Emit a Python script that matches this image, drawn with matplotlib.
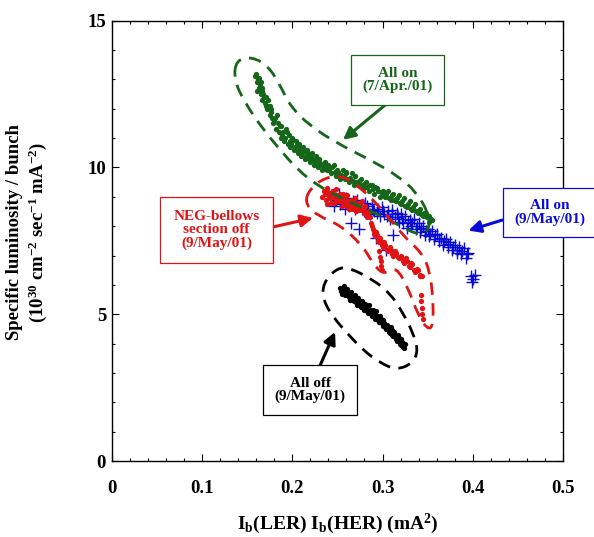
import matplotlib
matplotlib.use('Agg')
import matplotlib.pyplot as plt
from matplotlib.ticker import MultipleLocator
from matplotlib.path import Path
from matplotlib.patches import PathPatch

plt.rcParams['font.family'] = ['Liberation Serif', 'DejaVu Serif']
plt.rcParams['font.weight'] = 'bold'
plt.rcParams['mathtext.fontset'] = 'custom'
plt.rcParams['mathtext.rm'] = 'Liberation Serif:bold'
plt.rcParams['mathtext.it'] = 'Liberation Serif:bold'
plt.rcParams['mathtext.bf'] = 'Liberation Serif:bold'
plt.rcParams['mathtext.default'] = 'rm'

# ---- data ----
# All on (7/Apr./01)  - green dots
green_x = [0.160, 0.161, 0.162, 0.163, 0.164, 0.165, 0.166, 0.167, 0.168, 0.170,
           0.171, 0.172, 0.174, 0.175, 0.176, 0.178, 0.179, 0.181, 0.182, 0.184,
           0.185, 0.187, 0.188, 0.190, 0.191, 0.193, 0.195, 0.196, 0.198, 0.200,
           0.202, 0.204, 0.206, 0.208, 0.210, 0.212, 0.214, 0.216, 0.218, 0.220,
           0.222, 0.224, 0.226, 0.228, 0.230, 0.233, 0.236, 0.238, 0.240, 0.243,
           0.246, 0.248, 0.250, 0.253, 0.256, 0.258, 0.260, 0.263, 0.266, 0.268,
           0.270, 0.273, 0.276, 0.279, 0.282, 0.285, 0.288, 0.291, 0.294, 0.297,
           0.300, 0.303, 0.306, 0.309, 0.312, 0.315, 0.318, 0.321, 0.324, 0.327,
           0.330, 0.333, 0.336, 0.339, 0.342, 0.345, 0.348, 0.351, 0.354,
           0.159, 0.161, 0.163, 0.165, 0.167, 0.169, 0.171, 0.173, 0.175, 0.177,
           0.180, 0.183, 0.186, 0.189, 0.192, 0.194, 0.197, 0.199, 0.201, 0.203,
           0.205, 0.207, 0.209, 0.211, 0.213, 0.215, 0.217, 0.219, 0.221, 0.223,
           0.225, 0.227, 0.229, 0.231, 0.234, 0.237, 0.239, 0.241, 0.244, 0.247,
           0.249, 0.251, 0.254, 0.257, 0.259, 0.261, 0.264, 0.267, 0.269, 0.271,
           0.274, 0.277, 0.280, 0.283, 0.286, 0.289, 0.292, 0.295, 0.298, 0.301,
           0.304, 0.307, 0.310, 0.313, 0.316, 0.319, 0.322, 0.325, 0.328, 0.331,
           0.334, 0.337, 0.340, 0.343, 0.346, 0.349, 0.352, 0.355]
green_y = [13.2, 12.9, 13.0, 12.7, 12.8, 12.5, 12.7, 12.3, 12.5, 12.2,
           12.4, 12.0, 12.1, 11.8, 12.0, 11.7, 11.5, 11.7, 11.3, 11.5,
           11.2, 11.4, 11.0, 11.2, 10.9, 11.3, 10.8, 11.1, 10.7, 11.0,
           10.6, 10.9, 10.5, 10.8, 10.4, 10.7, 10.3, 10.6, 10.4, 10.2,
           10.5, 10.1, 10.4, 10.0, 10.3, 9.9, 10.2, 9.9, 10.1, 9.8,
           10.1, 9.7, 9.9, 9.6, 9.9, 9.6, 9.8, 9.5, 9.8, 9.4,
           9.7, 9.4, 9.6, 9.3, 9.5, 9.2, 9.4, 9.1, 9.3, 9.0,
           9.2, 9.0, 9.2, 8.9, 9.1, 8.85, 9.05, 8.75, 8.95, 8.65,
           8.85, 8.55, 8.75, 8.45, 8.6, 8.35, 8.45, 8.15, 8.25,
           13.1, 12.6, 13.05, 12.9, 12.6, 12.4, 12.1, 12.3, 12.1, 11.9,
           11.6, 11.8, 11.4, 11.1, 11.0, 11.2, 10.9, 10.8, 10.95, 10.7,
           10.75, 10.6, 10.65, 10.5, 10.55, 10.4, 10.5, 10.3, 10.35, 10.25,
           10.2, 10.3, 10.1, 10.15, 10.05, 9.95, 10.05, 9.9, 10.0, 9.85,
           9.75, 9.85, 9.75, 9.7, 9.85, 9.6, 9.65, 9.55, 9.7, 9.5,
           9.55, 9.4, 9.45, 9.35, 9.4, 9.25, 9.35, 9.2, 9.15, 9.05,
           9.1, 8.95, 9.05, 8.9, 8.95, 8.8, 8.85, 8.7, 8.75, 8.6,
           8.65, 8.5, 8.55, 8.4, 8.45, 8.3, 8.35, 8.2]

# All on (9/May/01) - blue crosses
blue_x = [0.243, 0.246, 0.249, 0.252, 0.255, 0.258, 0.260, 0.263, 0.265, 0.267,
          0.270, 0.272, 0.274, 0.276, 0.279, 0.281, 0.284, 0.286, 0.288, 0.291,
          0.293, 0.295, 0.297, 0.299, 0.302, 0.304, 0.306, 0.308, 0.310, 0.312,
          0.314, 0.316, 0.318, 0.320, 0.323, 0.325, 0.327, 0.330, 0.332, 0.335,
          0.337, 0.340, 0.342, 0.345, 0.347, 0.350, 0.352, 0.355, 0.357, 0.360,
          0.362, 0.365, 0.367, 0.370, 0.372, 0.375, 0.377, 0.380, 0.382, 0.385,
          0.387, 0.390, 0.392, 0.395, 0.398, 0.400, 0.402, 0.399,
          0.248, 0.253, 0.257, 0.262, 0.268, 0.271, 0.277, 0.283, 0.289, 0.294,
          0.300, 0.305, 0.311, 0.317, 0.322, 0.328, 0.333, 0.338, 0.343, 0.348,
          0.353, 0.358, 0.363, 0.368, 0.373, 0.378, 0.383, 0.388, 0.393]
blue_y = [9.05, 8.7, 8.9, 9.1, 8.8, 8.6, 8.95, 8.7, 8.1, 8.85,
          8.6, 8.9, 7.9, 8.7, 8.5, 8.8, 8.6, 8.4, 8.75, 8.5,
          7.6, 8.6, 8.35, 8.65, 8.4, 7.2, 8.5, 8.25, 8.55, 7.7,
          8.3, 8.45, 8.15, 8.4, 8.1, 8.35, 7.95, 8.2, 8.0, 8.25,
          7.9, 8.1, 7.8, 8.0, 7.7, 7.9, 7.65, 7.85, 7.55, 7.75,
          7.5, 7.6, 7.35, 7.55, 7.3, 7.45, 7.2, 7.35, 7.1, 7.3,
          7.05, 7.25, 6.9, 7.1, 6.3, 6.2, 6.35, 6.1,
          8.95, 8.75, 8.9, 8.8, 8.7, 8.8, 8.6, 8.7, 8.55, 8.45,
          8.5, 8.35, 8.4, 8.3, 8.25, 8.15, 8.1, 8.0, 7.95, 7.85,
          7.75, 7.7, 7.55, 7.5, 7.4, 7.3, 7.2, 7.15, 7.05]

# NEG-bellows section off (9/May/01) - red dots
red_x = [0.235, 0.237, 0.239, 0.241, 0.243, 0.245, 0.247, 0.249, 0.251, 0.253,
         0.255, 0.257, 0.259, 0.261, 0.263, 0.265, 0.267, 0.269, 0.271, 0.273,
         0.275, 0.277, 0.279, 0.281, 0.283, 0.285, 0.287, 0.289, 0.291, 0.293,
         0.295, 0.297, 0.299, 0.302, 0.305, 0.308, 0.311, 0.314, 0.317, 0.320,
         0.323, 0.326, 0.329, 0.332, 0.335, 0.338, 0.341, 0.344,
         0.296, 0.297, 0.298, 0.298, 0.299, 0.343, 0.343, 0.344, 0.344, 0.345,
         0.233, 0.236, 0.238, 0.240, 0.242, 0.244, 0.246, 0.248, 0.250, 0.252,
         0.254, 0.256, 0.258, 0.260, 0.262, 0.264, 0.266, 0.268, 0.270, 0.272,
         0.274, 0.276, 0.278, 0.280, 0.282, 0.284, 0.286, 0.288, 0.290, 0.292,
         0.294, 0.296, 0.298, 0.300, 0.303, 0.306, 0.309, 0.312, 0.315, 0.318,
         0.321, 0.324, 0.327, 0.330, 0.333, 0.336, 0.339, 0.342]
red_y = [9.2, 8.9, 9.3, 9.0, 8.8, 9.2, 8.95, 9.25, 8.85, 9.1,
         8.7, 9.0, 8.8, 9.05, 8.6, 8.9, 8.7, 8.95, 8.5, 8.8,
         8.6, 8.85, 8.45, 8.7, 8.3, 8.5, 8.1, 7.9, 7.75, 7.8,
         7.5, 7.6, 7.35, 7.45, 7.2, 7.3, 7.05, 7.15, 6.95, 7.0,
         6.8, 6.9, 6.65, 6.75, 6.5, 6.55, 6.35, 6.3,
         7.15, 6.95, 6.8, 6.65, 6.5, 5.65, 5.45, 5.2, 5.0, 4.85,
         9.0, 9.1, 8.75, 9.15, 8.95, 9.1, 8.8, 9.05, 9.0, 8.95,
         8.85, 9.1, 8.9, 8.7, 8.85, 8.75, 8.6, 8.8, 8.7, 8.65,
         8.55, 8.7, 8.6, 8.55, 8.45, 8.35, 8.3, 8.0, 7.85, 7.65,
         7.7, 7.45, 7.5, 7.3, 7.35, 7.15, 7.2, 7.0, 7.1, 6.9,
         6.95, 6.75, 6.8, 6.6, 6.7, 6.45, 6.5, 6.3]

# All off (9/May/01) - black dots
black_x = [0.253, 0.255, 0.257, 0.259, 0.261, 0.263, 0.265, 0.267, 0.269, 0.271,
           0.273, 0.275, 0.277, 0.279, 0.281, 0.283, 0.285, 0.287, 0.289, 0.291,
           0.293, 0.295, 0.297, 0.299, 0.301, 0.303, 0.305, 0.307, 0.309, 0.311,
           0.313, 0.315, 0.317, 0.319, 0.321, 0.323, 0.325,
           0.254, 0.256, 0.258, 0.260, 0.262, 0.264, 0.266, 0.268, 0.270, 0.272,
           0.274, 0.276, 0.278, 0.280, 0.282, 0.284, 0.286, 0.288, 0.290, 0.292,
           0.294, 0.296, 0.298, 0.300, 0.302, 0.304, 0.306, 0.308, 0.310, 0.312,
           0.314, 0.316, 0.318, 0.320, 0.322, 0.324]
black_y = [5.9, 5.7, 5.95, 5.75, 5.85, 5.6, 5.75, 5.5, 5.65, 5.4,
           5.55, 5.3, 5.45, 5.2, 5.35, 5.1, 5.3, 5.0, 5.15, 4.95,
           5.1, 4.8, 4.95, 4.7, 4.8, 4.55, 4.65, 4.4, 4.55, 4.3,
           4.4, 4.15, 4.3, 4.0, 4.15, 3.9, 4.0,
           5.8, 5.85, 5.65, 5.8, 5.7, 5.5, 5.6, 5.45, 5.55, 5.3,
           5.4, 5.25, 5.35, 5.15, 5.25, 5.05, 5.15, 4.95, 5.05, 4.85,
           4.95, 4.75, 4.85, 4.6, 4.7, 4.5, 4.55, 4.35, 4.45, 4.25,
           4.3, 4.1, 4.2, 3.95, 4.05, 3.85]

# dashed outlines drawn round each group (data units)
green_outline = [(0.1377, 13.66), (0.1554, 13.77), (0.1732, 13.46), (0.1865, 12.81),
                 (0.1975, 12.10), (0.2197, 11.41), (0.2529, 10.77), (0.2862, 10.26),
                 (0.3172, 9.71), (0.3371, 9.17), (0.3504, 8.48), (0.3526, 7.94),
                 (0.3416, 7.67), (0.3194, 8.01), (0.2917, 8.45), (0.2585, 8.89),
                 (0.2286, 9.37), (0.2064, 9.91), (0.1865, 10.60), (0.1665, 11.35),
                 (0.1477, 12.20), (0.1355, 12.98)]
red_outline = [(0.2164, 9.13), (0.2308, 9.57), (0.2496, 9.74), (0.2662, 9.54),
               (0.2939, 8.79), (0.3227, 7.67), (0.3438, 7.09), (0.3526, 6.44),
               (0.3560, 5.49), (0.3560, 4.57), (0.3493, 4.50), (0.3394, 4.97),
               (0.3283, 5.89), (0.3172, 6.51), (0.3105, 6.51), (0.2995, 6.37),
               (0.2884, 6.78), (0.2773, 7.36), (0.2529, 8.04), (0.2286, 8.35),
               (0.2153, 8.72)]
black_outline = [(0.2341, 6.06), (0.2496, 6.58), (0.2640, 6.58), (0.2895, 6.17),
                 (0.3083, 5.72), (0.3227, 5.04), (0.3338, 4.36), (0.3394, 3.78),
                 (0.3338, 3.34), (0.3161, 3.10), (0.2973, 3.34), (0.2784, 3.78),
                 (0.2606, 4.36), (0.2451, 4.91), (0.2341, 5.49)]

xticks = [0, 0.1, 0.2, 0.3, 0.4, 0.5]
xticklabels = ['0', '0.1', '0.2', '0.3', '0.4', '0.5']
yticks = [0, 5, 10, 15]

GREEN = '#16661a'
BLUE = '#0b0bd8'
RED = '#e01414'
BLACK = '#000000'


def smooth_outline(ax, pts, color):
    # closed quadratic spline through the midpoints of the outline vertices
    n = len(pts)
    mid = lambda a, b: ((a[0] + b[0]) / 2, (a[1] + b[1]) / 2)
    verts = [mid(pts[-1], pts[0])]
    codes = [Path.MOVETO]
    for i in range(n):
        verts += [pts[i], mid(pts[i], pts[(i + 1) % n])]
        codes += [Path.CURVE3, Path.CURVE3]
    patch = PathPatch(Path(verts, codes), fill=False, edgecolor=color,
                      lw=2.0, linestyle=(0, (4.5, 3)), zorder=4)
    ax.add_patch(patch)


fig = plt.figure(figsize=(5.94, 5.37), dpi=100)
ax = fig.add_axes([0.188, 0.1415, 0.760, 0.820])

ax.plot(blue_x, blue_y, '+', color=BLUE, ms=9, mew=1.0, zorder=2)
ax.plot(green_x, green_y, 'o', color=GREEN, ms=3.8, mec='none', zorder=3)
ax.plot(red_x, red_y, 'o', color=RED, ms=3.8, mec='none', zorder=3)
ax.plot(black_x, black_y, 'o', color=BLACK, ms=3.8, mec='none', zorder=3)

smooth_outline(ax, green_outline, GREEN)
smooth_outline(ax, red_outline, RED)
smooth_outline(ax, black_outline, BLACK)

def label(ax, text, head, center, color, relpos, pad=0.75):
    ax.annotate(text, xy=head, xytext=center, ha='center', va='center',
                fontsize=11, fontweight='bold', color=color, linespacing=1.0,
                annotation_clip=False,
                bbox=dict(boxstyle='square,pad=%g' % pad, fc='white', ec=color, lw=0.9),
                arrowprops=dict(arrowstyle='-|>', color=color, lw=2.2,
                                mutation_scale=18, relpos=relpos, shrinkA=0, shrinkB=0),
                zorder=6)

label(ax, 'All on\n(7/Apr./01)', (0.2562, 10.94), (0.3164, 12.98), GREEN, (0.53, 0.0))
label(ax, 'NEG-bellows\nsection off\n(9/May/01)', (0.2231, 8.28), (0.1161, 7.87), RED, (1.0, 0.5), pad=0.9)
label(ax, 'All on\n(9/May/01)', (0.3951, 7.85), (0.4852, 8.47), BLUE, (0.0, 0.35))
label(ax, 'All off\n(9/May/01)', (0.2474, 4.40), (0.2197, 2.42), BLACK, (0.57, 1.0))

ax.set_xlim(0, 0.5)
ax.set_ylim(0, 15)
ax.set_xticks(xticks)
ax.set_xticklabels(xticklabels)
ax.set_yticks(yticks)
ax.xaxis.set_minor_locator(MultipleLocator(0.02))
ax.yaxis.set_minor_locator(MultipleLocator(1))
ax.tick_params(which='both', direction='in', top=True, right=True, width=0.8)
ax.tick_params(which='major', length=5, labelsize=13.5)
ax.tick_params(which='minor', length=2.5)
ax.tick_params(axis='x', pad=14)
ax.tick_params(axis='y', pad=4)
for s in ax.spines.values():
    s.set_linewidth(1.0)

ax.set_xlabel(r'I$_b$(LER) I$_b$(HER) (mA$^2$)', fontsize=14, fontweight='bold', labelpad=10)
ax.text(-0.2150, 0.52, 'Specific luminosity / bunch', transform=ax.transAxes,
        rotation=90, ha='center', va='center', fontsize=13.5, fontweight='bold')
ax.text(-0.1640, 0.52, r'(10$^{30}$ cm$^{-2}$ sec$^{-1}$ mA$^{-2}$)', transform=ax.transAxes,
        rotation=90, ha='center', va='center', fontsize=13.5, fontweight='bold')

fig.savefig('out.png', dpi=100)
